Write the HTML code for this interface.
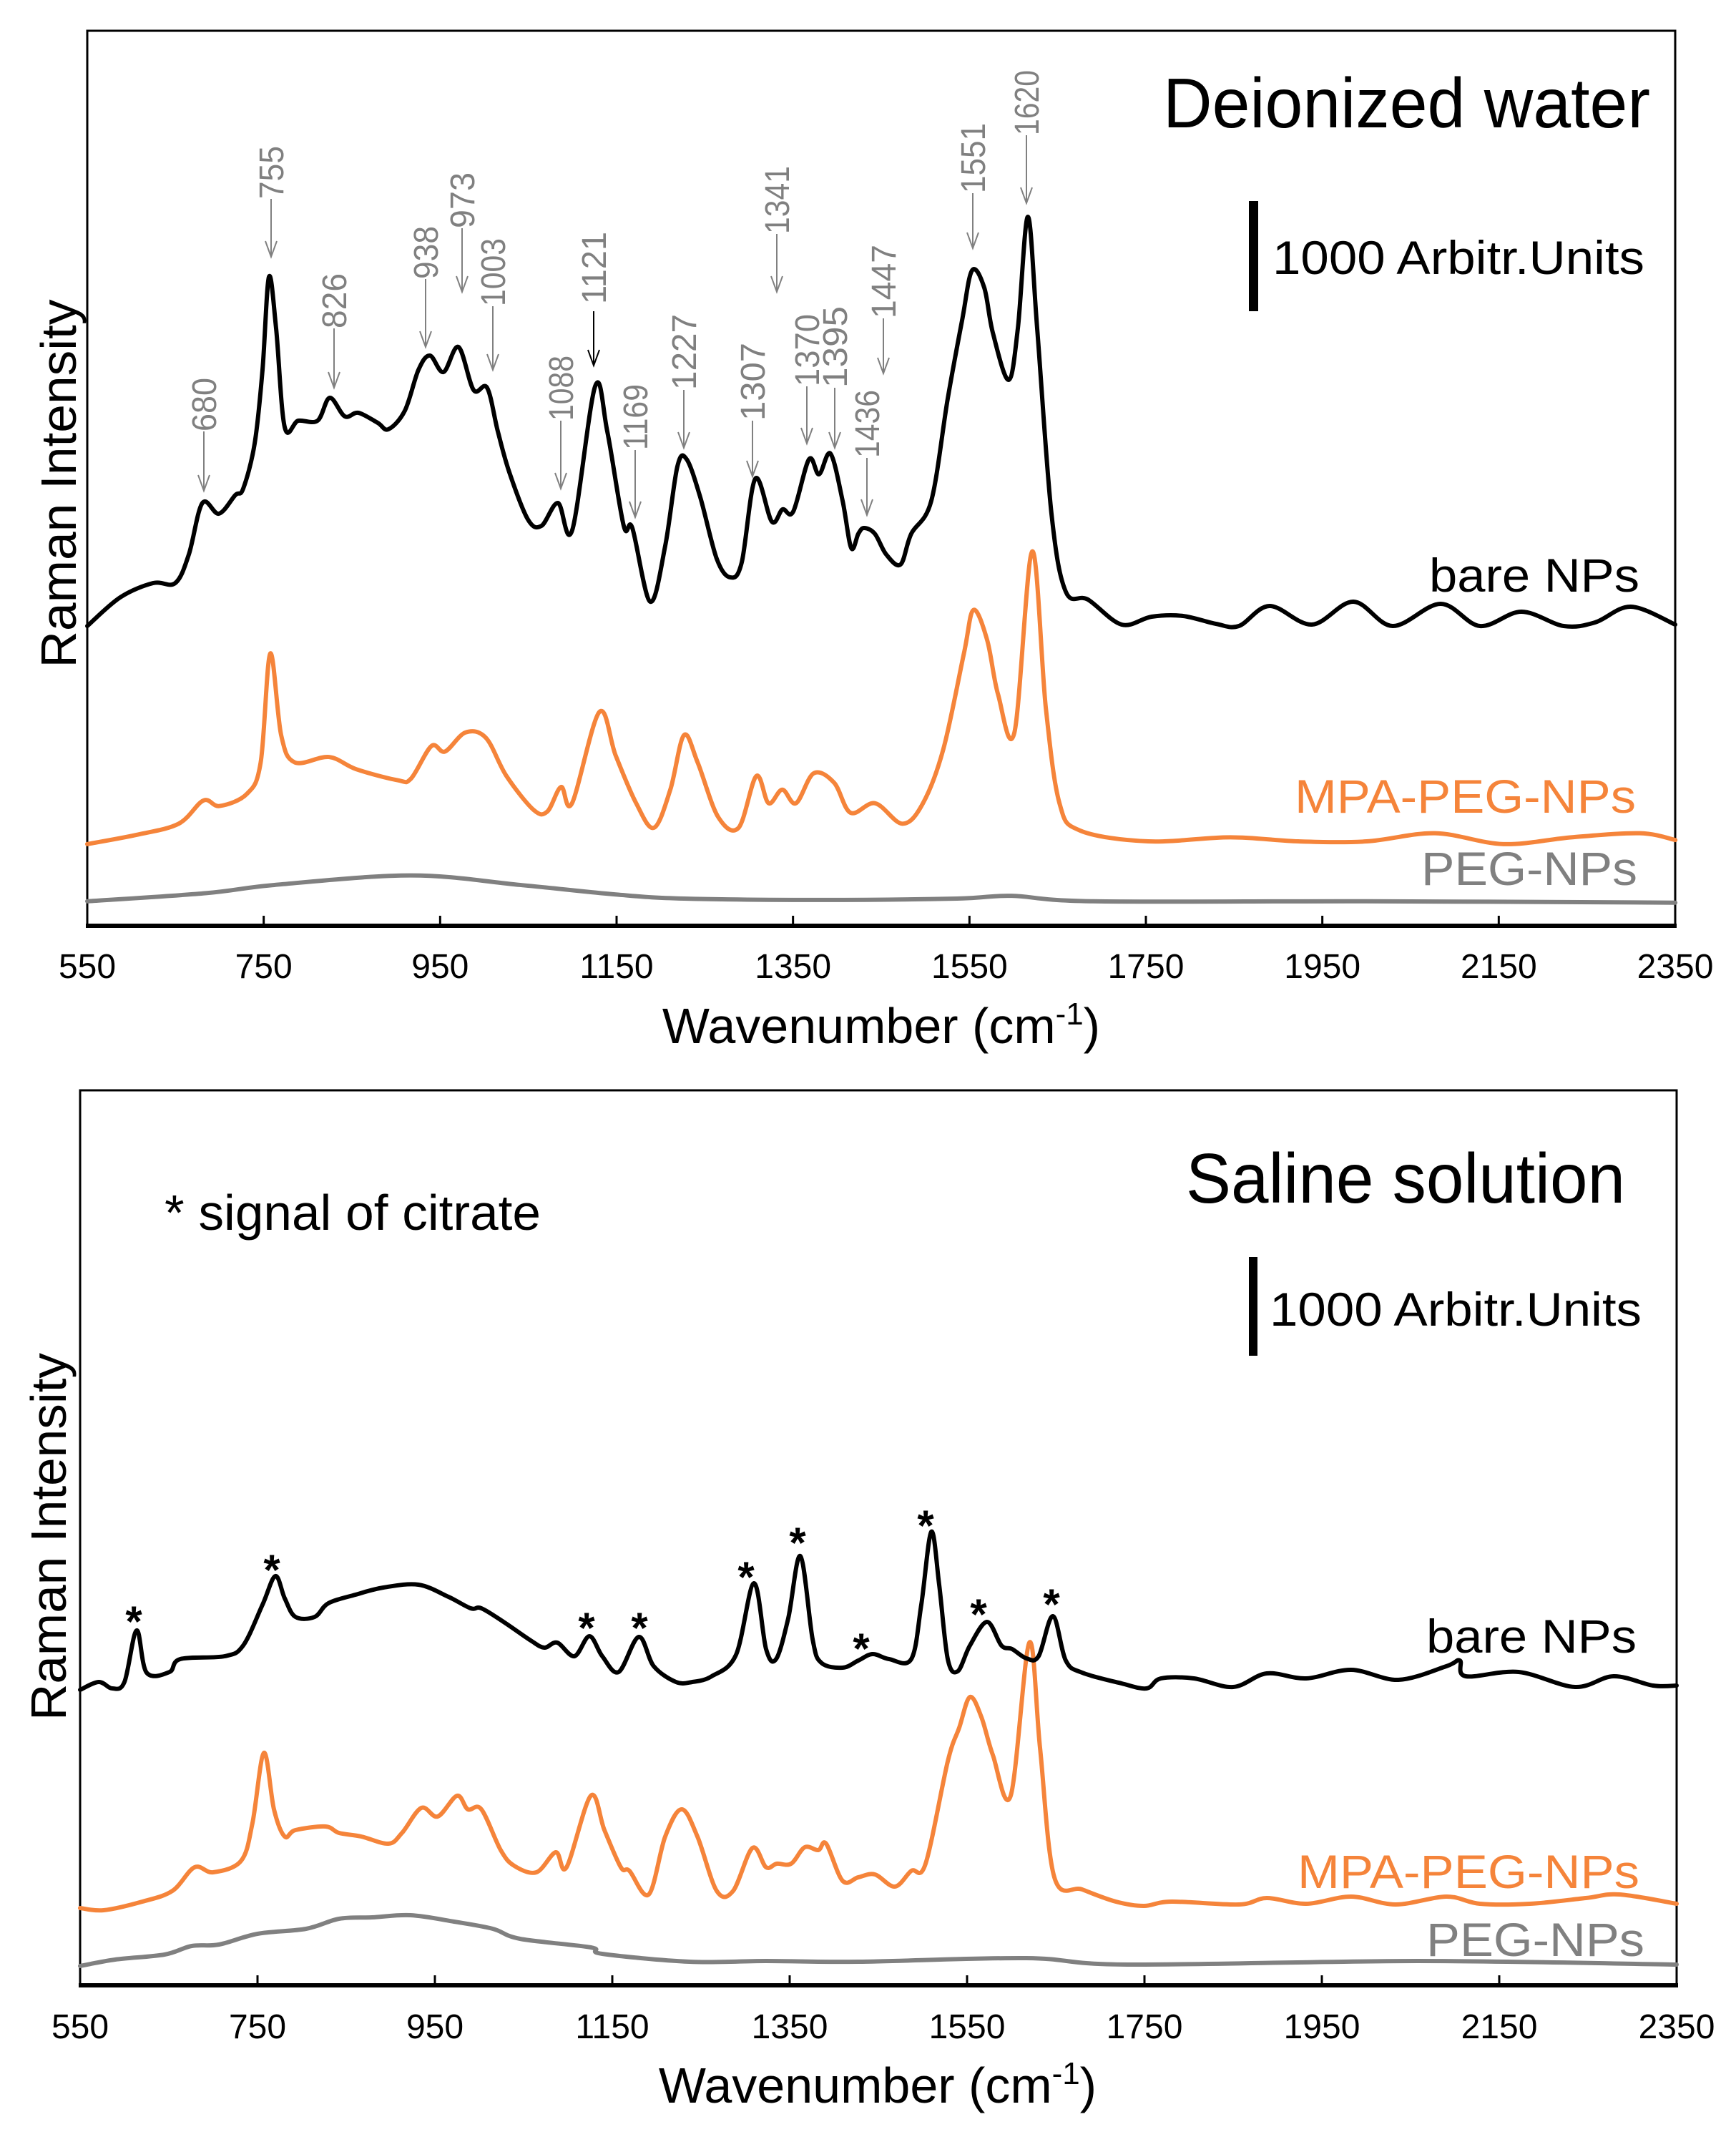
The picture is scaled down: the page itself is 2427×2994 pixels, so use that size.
<!DOCTYPE html>
<html><head><meta charset="utf-8"><style>
html,body{margin:0;padding:0;background:#fff}
svg{display:block}
text{font-family:"Liberation Sans",Arial,sans-serif}
</style></head><body>
<svg id="s" xmlns="http://www.w3.org/2000/svg" width="2427" height="2994" viewBox="0 0 2427 2994">
<rect width="2427" height="2994" fill="#fff"/>
<rect x="122" y="43" width="2220" height="1251" fill="none" stroke="#000" stroke-width="3"/>
<line x1="120" y1="1294" x2="2344" y2="1294" stroke="#000" stroke-width="6"/>
<rect x="112" y="1524" width="2232" height="1251" fill="none" stroke="#000" stroke-width="3"/>
<line x1="110" y1="2775" x2="2346" y2="2775" stroke="#000" stroke-width="6"/>
<g id="ticks"></g>
<g id="curves" fill="none" stroke-linejoin="round" stroke-linecap="round"></g>

<text x="1626" y="178" font-size="98" textLength="681" lengthAdjust="spacingAndGlyphs">Deionized water</text>
<rect x="1746" y="281" width="13" height="154" fill="#000"/>
<text x="1779" y="383" font-size="66" textLength="520" lengthAdjust="spacingAndGlyphs">1000 Arbitr.Units</text>
<text x="1998" y="827" font-size="66" textLength="294" lengthAdjust="spacingAndGlyphs">bare NPs</text>
<text x="1810" y="1136" font-size="66" fill="#F5843A" textLength="477" lengthAdjust="spacingAndGlyphs">MPA-PEG-NPs</text>
<text x="1987" y="1237" font-size="66" fill="#808080" textLength="302" lengthAdjust="spacingAndGlyphs">PEG-NPs</text>
<text transform="translate(106,676) rotate(-90)" font-size="70" text-anchor="middle" textLength="515" lengthAdjust="spacingAndGlyphs">Raman Intensity</text>
<text x="1232" y="1458" font-size="70" text-anchor="middle">Wavenumber (cm<tspan font-size="44" dy="-26">-1</tspan><tspan dy="26">)</tspan></text>

<text x="1658" y="1681" font-size="98" textLength="614" lengthAdjust="spacingAndGlyphs">Saline solution</text>
<text x="230" y="1719" font-size="70" textLength="526" lengthAdjust="spacingAndGlyphs">* signal of citrate</text>
<rect x="1746" y="1757" width="12" height="138" fill="#000"/>
<text x="1775" y="1853" font-size="66" textLength="520" lengthAdjust="spacingAndGlyphs">1000 Arbitr.Units</text>
<text x="1994" y="2310" font-size="66" textLength="294" lengthAdjust="spacingAndGlyphs">bare NPs</text>
<text x="1814" y="2639" font-size="66" fill="#F5843A" textLength="478" lengthAdjust="spacingAndGlyphs">MPA-PEG-NPs</text>
<text x="1994" y="2734" font-size="66" fill="#808080" textLength="305" lengthAdjust="spacingAndGlyphs">PEG-NPs</text>
<text transform="translate(92,2148) rotate(-90)" font-size="70" text-anchor="middle" textLength="514" lengthAdjust="spacingAndGlyphs">Raman Intensity</text>
<text x="1227" y="2939" font-size="70" text-anchor="middle">Wavenumber (cm<tspan font-size="44" dy="-26">-1</tspan><tspan dy="26">)</tspan></text>
<g id="ast" font-size="60" text-anchor="middle"></g>
<g id="ann" fill="#808080" font-size="48"></g>
</svg>
<script>
var NS="http://www.w3.org/2000/svg";
function el(t,a,p,txt){var e=document.createElementNS(NS,t);for(var k in a)e.setAttribute(k,a[k]);if(txt!==undefined)e.textContent=txt;document.getElementById(p).appendChild(e);return e;}
function xt(w){return 122+(w-550)*2220/1800;}
function xb(w){return 112+(w-550)*2232/1800;}
for(var w=550;w<=2350;w+=200){
  if(w>550&&w<2350){
    el('line',{x1:xt(w),y1:1294,x2:xt(w),y2:1280,stroke:'#000','stroke-width':3},'ticks');
    el('line',{x1:xb(w),y1:2775,x2:xb(w),y2:2761,stroke:'#000','stroke-width':3},'ticks');
  }
  el('text',{x:xt(w),y:1367,'font-size':48,'text-anchor':'middle'},'ticks',String(w));
  el('text',{x:xb(w),y:2849,'font-size':48,'text-anchor':'middle'},'ticks',String(w));
}
function path(pts){
  var d='M'+pts[0][0]+','+pts[0][1];
  for(var i=0;i<pts.length-1;i++){
    var p0=pts[i>0?i-1:i],p1=pts[i],p2=pts[i+1],p3=pts[i+2<pts.length?i+2:i+1];
    var c1x=p1[0]+(p2[0]-p0[0])/6,c1y=p1[1]+(p2[1]-p0[1])/6;
    var c2x=p2[0]-(p3[0]-p1[0])/6,c2y=p2[1]-(p3[1]-p1[1])/6;
    d+=' C'+c1x.toFixed(1)+','+c1y.toFixed(1)+' '+c2x.toFixed(1)+','+c2y.toFixed(1)+' '+p2[0]+','+p2[1];
  }
  return d;
}
function disp(arr){return arr.map(function(p){return [122+(p[0]-63)*1.909,p[1]*1.903];});}
var topBlack=[[122,875],[168,835],[214,815],[245,815],[264,775],[283,703],[306,718],[329,692],[340,683],[356,620],[367,517],[376,387],[386,459],[398,597],[417,588],[444,588],[461,556],[482,582],[501,577],[528,591],[543,600],[566,574],[585,517],[601,497],[620,520],[641,485],[662,545],[681,542],[696,603],[712,660],[738,726],[757,735],[780,703],[800,741],[832,540],[849,603],[872,735],[884,738],[909,841],[930,763],[947,652],[960,642],[979,695],[1002,781],[1021,807],[1037,786],[1056,669],[1079,729],[1094,712],[1109,715],[1131,642],[1145,663],[1161,634],[1178,700],[1190,766],[1200,746],[1208,738],[1223,746],[1239,775],[1259,789],[1274,746],[1302,700],[1325,557],[1345,448],[1359,378],[1376,402],[1388,465],[1410,531],[1423,459],[1437,303],[1450,459],[1470,718],[1490,827],[1521,838],[1568,873],[1610,862],[1654,861],[1700,872],[1732,875],[1775,847],[1834,873],[1892,841],[1947,875],[2014,844],[2069,875],[2127,855],[2186,875],[2230,870],[2280,848],[2342,873]];
var topOrange=disp([[63,620],[100,613],[130,605],[148,588],[160,592],[180,583],[190,560],[197,480],[205,540],[215,560],[240,556],[260,565],[290,573],[300,572],[315,548],[325,552],[340,538],[355,542],[370,570],[390,595],[400,596],[410,578],[418,590],[438,523],[450,555],[465,590],[478,608],[490,580],[500,540],[510,560],[525,600],[540,608],[553,570],[562,590],[572,580],[582,590],[595,568],[610,575],[622,597],[640,590],[660,605],[675,590],[690,550],[705,480],[712,448],[722,470],[730,510],[742,538],[755,405],[765,520],[775,590],[790,610],[840,618],[900,615],[950,618],[1000,618],[1050,612],[1100,620],[1150,615],[1200,612],[1226,617]]);
var topGrey=disp([[63,662],[150,656],[200,650],[300,643],[380,650],[450,657],[500,660],[600,661],[700,660],[740,658],[800,662],[1000,662],[1226,663]]);
var botBlack=[[112,2362],[138,2351],[157,2360],[174,2351],[191,2279],[205,2338],[237,2337],[252,2319],[314,2315],[340,2300],[367,2243],[385,2203],[398,2234],[413,2260],[440,2260],[459,2241],[497,2229],[536,2219],[585,2215],[627,2232],[658,2248],[673,2248],[704,2267],[742,2293],[761,2303],[779,2296],[803,2315],[824,2287],[842,2315],[865,2337],[893,2288],[914,2329],[945,2351],[968,2351],[995,2343],[1029,2313],[1054,2213],[1071,2305],[1085,2319],[1102,2262],[1119,2175],[1136,2291],[1148,2324],[1178,2331],[1200,2321],[1220,2312],[1243,2319],[1274,2319],[1288,2243],[1302,2141],[1313,2215],[1325,2319],[1339,2336],[1356,2300],[1380,2267],[1400,2300],[1415,2305],[1435,2318],[1452,2315],[1472,2259],[1490,2321],[1513,2338],[1568,2353],[1603,2360],[1623,2346],[1669,2346],[1724,2358],[1771,2339],[1826,2346],[1889,2334],[1955,2348],[2022,2329],[2041,2321],[2049,2343],[2123,2337],[2202,2358],[2256,2343],[2311,2356],[2344,2356]];
var botOrange=[[112,2667],[145,2670],[199,2658],[241,2643],[272,2610],[298,2617],[337,2601],[353,2548],[369,2450],[383,2529],[398,2567],[413,2558],[455,2553],[474,2562],[505,2567],[543,2577],[562,2562],[589,2527],[612,2539],[639,2510],[654,2529],[673,2529],[700,2586],[719,2608],[750,2617],[777,2589],[792,2610],[826,2510],[845,2558],[868,2610],[880,2615],[907,2648],[930,2567],[953,2529],[975,2567],[1002,2643],[1025,2643],[1052,2583],[1071,2610],[1086,2605],[1106,2605],[1125,2582],[1144,2586],[1155,2577],[1178,2629],[1200,2624],[1223,2620],[1251,2637],[1274,2615],[1294,2605],[1325,2462],[1341,2415],[1356,2372],[1372,2400],[1388,2453],[1413,2510],[1439,2296],[1454,2443],[1474,2624],[1513,2641],[1560,2658],[1599,2664],[1638,2658],[1732,2662],[1771,2653],[1826,2661],[1889,2651],[1951,2662],[2022,2651],[2069,2661],[2139,2661],[2217,2653],[2264,2648],[2344,2661]];
var botGrey=[[112,2748],[161,2739],[230,2732],[268,2720],[306,2718],[360,2703],[428,2696],[474,2682],[520,2680],[574,2677],[635,2686],[689,2696],[727,2710],[826,2722],[842,2731],[964,2742],[1071,2741],[1200,2742],[1435,2737],[1576,2746],[1982,2741],[2344,2746]];
[[topGrey,'#808080'],[topOrange,'#F5843A'],[topBlack,'#000'],[botGrey,'#808080'],[botOrange,'#F5843A'],[botBlack,'#000']].forEach(function(c){
  el('path',{d:path(c[0]),stroke:c[1],'stroke-width':6},'curves');
});
[[187,2253],[380,2181],[820,2262],[894,2262],[1043,2191],[1115,2143],[1204,2291],[1294,2119],[1368,2243],[1470,2229]].forEach(function(p){
  el('text',{x:p[0],y:p[1]+34,'font-weight':'bold'},'ast','*');
});
var A=[['680',285,528,603,686],['755',379,204,278,359],['826',467,382,459,542],['938',595,316,390,485],['973',646,241,319,408],['1003',689,333,428,517],['1088',784,497,588,683],['1121',830,324,425,511,'#000'],['1169',888,537,629,723],['1227',956,439,545,626],['1307',1052,479,588,666],['1341',1086,232,327,408],['1370',1128,439,540,620],['1395',1167,428,542,626],['1436',1212,545,640,720],['1447',1235,342,445,522],['1551',1360,172,270,347],['1620',1435,98,189,284]];
A.forEach(function(a){
  var col=a[5]||'#808080';
  var len=a[3]-a[2];
  el('text',{transform:'translate('+(a[1]+17)+','+a[3]+') rotate(-90)','font-size':48,fill:'#808080',textLength:len,lengthAdjust:'spacingAndGlyphs'},'ann',a[0]);
  var top=a[3]+(a[5]?10:0);
  el('line',{x1:a[1],y1:top,x2:a[1],y2:a[4],stroke:col,'stroke-width':2},'ann');
  el('polyline',{points:(a[1]-8)+','+(a[4]-22)+' '+a[1]+','+a[4]+' '+(a[1]+8)+','+(a[4]-22),fill:'none',stroke:col,'stroke-width':2},'ann');
});
</script>
</body></html>
